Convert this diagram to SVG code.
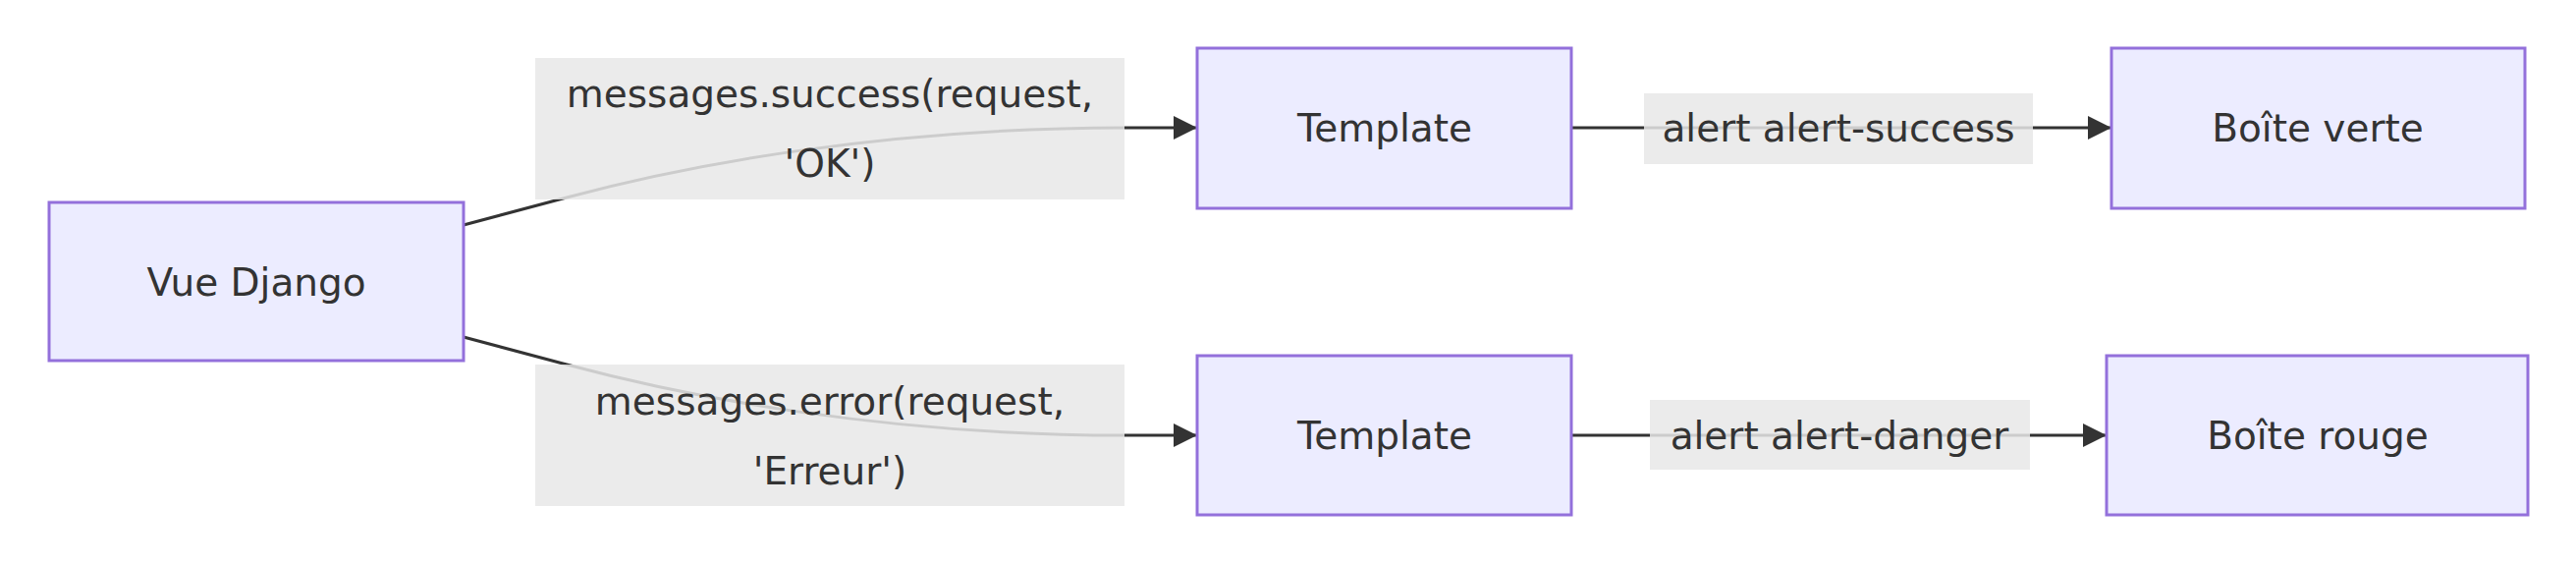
<svg xmlns="http://www.w3.org/2000/svg" width="2623" height="574" viewBox="0 0 2623 574">
<style>
.n rect{fill:#ECECFF;stroke:#9370DB;stroke-width:3}
text{font-family:"DejaVu Sans",sans-serif;font-size:39px;fill:#333;text-anchor:middle;dominant-baseline:central}
.e{fill:none;stroke:#333;stroke-width:3}
.lb{fill:#e8e8e8;opacity:0.85}
</style>
<defs><marker id="a" viewBox="0 0 10 10" refX="9" refY="5" markerWidth="8" markerHeight="8" markerUnits="userSpaceOnUse" orient="auto"><path d="M0,0L10,5L0,10z" fill="#333"/></marker>
<marker id="b" viewBox="0 0 10 10" refX="10" refY="5" markerWidth="24" markerHeight="24" markerUnits="userSpaceOnUse" orient="auto"><path d="M0,0L10,5L0,10z" fill="#333"/></marker></defs>
<g id="edges">
<path class="e" d="M472,229 L577,201 C700,168 900,130 1146,130 L1219,130" marker-end="url(#b)"/>
<path class="e" d="M472,343 L577,371 C700,404 900,443 1146,443 L1219,443" marker-end="url(#b)"/>
<path class="e" d="M1600,130 L2150,130" marker-end="url(#b)"/>
<path class="e" d="M1600,443 L2145,443" marker-end="url(#b)"/>
<rect class="lb" x="545" y="59" width="600" height="144"/>
<text x="845" y="95">messages.success(request,</text>
<text x="845" y="166">'OK')</text>
<rect class="lb" x="545" y="371" width="600" height="144"/>
<text x="845" y="408">messages.error(request,</text>
<text x="845" y="479">'Erreur')</text>
<rect class="lb" x="1674" y="95" width="396" height="72"/>
<text x="1872" y="130">alert alert-success</text>
<rect class="lb" x="1680" y="407" width="387" height="71"/>
<text x="1873" y="443">alert alert-danger</text>
</g>
<g id="vue" class="n"><rect x="50" y="206" width="422" height="161"/><text x="261" y="287">Vue Django</text></g>
<g id="t1" class="n"><rect x="1219" y="49" width="381" height="163"/><text x="1410" y="130">Template</text></g>
<g id="t2" class="n"><rect x="1219" y="362" width="381" height="162"/><text x="1410" y="443">Template</text></g>
<g id="v" class="n"><rect x="2150" y="49" width="421" height="163"/><text x="2360" y="130">Boîte verte</text></g>
<g id="r" class="n"><rect x="2145" y="362" width="429" height="162"/><text x="2360" y="443">Boîte rouge</text></g>
</svg>
